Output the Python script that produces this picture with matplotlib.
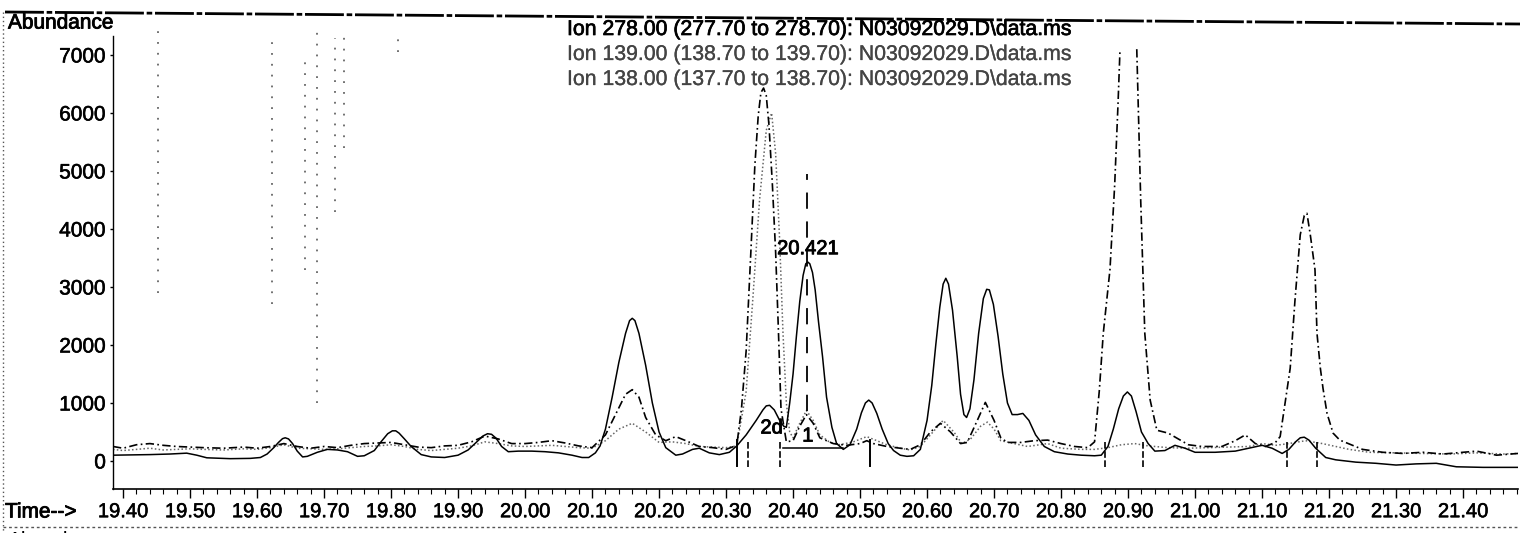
import numpy as np
import matplotlib
matplotlib.use("Agg")
import matplotlib.pyplot as plt
from matplotlib.lines import Line2D
import matplotlib.patheffects as pe

plt.rcParams['font.family'] = ['Liberation Sans', 'DejaVu Sans']

# Ion 278 (solid)
t278 = [19.385, 19.41, 19.44, 19.47, 19.495, 19.51, 19.525, 19.56, 19.59, 19.605, 19.615, 19.625,
        19.632, 19.638, 19.642, 19.647, 19.653, 19.66, 19.668, 19.675, 19.69, 19.705, 19.72, 19.735,
        19.75, 19.76, 19.775, 19.785, 19.795, 19.802, 19.807, 19.812, 19.82, 19.83, 19.845, 19.86,
        19.88, 19.90, 19.915, 19.928, 19.937, 19.944, 19.95, 19.957, 19.965, 19.975, 19.99, 20.01,
        20.03, 20.05, 20.07, 20.085, 20.095, 20.105, 20.112, 20.12, 20.13, 20.14, 20.15, 20.156,
        20.16, 20.164, 20.17, 20.18, 20.19, 20.20, 20.21, 20.225, 20.235, 20.25, 20.26, 20.275,
        20.29, 20.305, 20.316, 20.33, 20.345, 20.355, 20.36, 20.365, 20.372, 20.38, 20.386, 20.39,
        20.395, 20.40, 20.405, 20.41, 20.415, 20.419, 20.422, 20.425, 20.429, 20.433, 20.438,
        20.444, 20.45, 20.458, 20.465, 20.475, 20.485, 20.495, 20.502, 20.508, 20.513, 20.518,
        20.525, 20.533, 20.542, 20.55, 20.56, 20.57, 20.58, 20.59, 20.60, 20.607, 20.613, 20.619,
        20.624, 20.628, 20.632, 20.638, 20.645, 20.65, 20.655, 20.659, 20.664, 20.67, 20.677,
        20.684, 20.689, 20.693, 20.699, 20.706, 20.713, 20.72, 20.727, 20.735, 20.743, 20.752,
        20.762, 20.775, 20.79, 20.81, 20.83, 20.85, 20.86, 20.87, 20.878, 20.886, 20.893, 20.899,
        20.905, 20.912, 20.92, 20.93, 20.94, 20.955, 20.97, 20.985, 21.00, 21.03, 21.06, 21.08,
        21.10, 21.115, 21.13, 21.14, 21.15, 21.157, 21.163, 21.17, 21.18, 21.195, 21.21, 21.24,
        21.27, 21.30, 21.33, 21.36, 21.39, 21.43, 21.482]
i278 = [100, 105, 110, 120, 135, 100, 55, 40, 45, 60, 120, 230,
        320, 385, 400, 380, 300, 170, 70, 80, 150, 200, 190, 160,
        80, 90, 180, 330, 470, 520, 520, 480, 380, 250, 110, 70,
        60, 100, 190, 330, 430, 470, 460, 390, 250, 160, 170, 170,
        160, 140, 100, 60, 60, 140, 260, 550, 1100, 1700, 2200, 2420,
        2460, 2420, 2200, 1650, 1000, 500, 230, 100, 120, 200, 220, 140,
        110, 150, 260, 450, 700, 880, 950, 960, 880, 700, 600, 580,
        1000, 1500, 2150, 2750, 3200, 3400, 3430, 3400, 3250, 2950, 2400,
        1800, 1100, 580, 300, 200, 280, 550, 830, 1000, 1050, 1000,
        820, 550, 300, 180, 100, 80, 90, 200, 700, 1300, 2000, 2650,
        3050, 3150, 3050, 2600, 1800, 1150, 800, 750, 900, 1400, 2200,
        2800, 2960, 2950, 2700, 2150, 1500, 1000, 800, 800, 820, 700,
        450, 250, 160, 120, 100, 90, 100, 250, 550, 900, 1120, 1190,
        1120, 850, 500, 300, 170, 180, 270, 220, 150, 150, 170, 220,
        270, 220, 130, 200, 330, 400, 410, 360, 220, 60, 20, -20,
        -40, -70, -50, -40, -100, -110, -110]

# Ion 139 (dash-dot)
t139 = [19.385, 19.40, 19.42, 19.44, 19.46, 19.48, 19.50, 19.52, 19.55, 19.58, 19.60, 19.62, 19.64,
        19.66, 19.68, 19.70, 19.72, 19.74, 19.76, 19.78, 19.80, 19.82, 19.84, 19.86, 19.88, 19.90,
        19.92, 19.94, 19.96, 19.98, 20.00, 20.02, 20.04, 20.06, 20.08, 20.10, 20.12, 20.135, 20.15,
        20.16, 20.17, 20.18, 20.195, 20.21, 20.225, 20.24, 20.26, 20.28, 20.30, 20.316, 20.323,
        20.330, 20.337, 20.343, 20.348, 20.352, 20.356, 20.360, 20.364, 20.369, 20.374, 20.378,
        20.382, 20.39, 20.40, 20.41, 20.42, 20.43, 20.44, 20.46, 20.48, 20.50, 20.51, 20.52, 20.54,
        20.56, 20.575, 20.59, 20.605, 20.62, 20.635, 20.65, 20.66, 20.675, 20.687, 20.70, 20.71,
        20.72, 20.74, 20.76, 20.78, 20.80, 20.82, 20.84, 20.85, 20.857, 20.863, 20.873, 20.880,
        20.885, 20.888, 20.90, 20.913, 20.919, 20.925, 20.933, 20.943, 20.96, 20.975, 20.99, 21.01,
        21.04, 21.06, 21.075, 21.09, 21.105, 21.12, 21.127, 21.142, 21.149, 21.157, 21.163, 21.167,
        21.172, 21.179, 21.182, 21.187, 21.191, 21.197, 21.206, 21.216, 21.25, 21.28, 21.31, 21.34,
        21.37, 21.40, 21.42, 21.45, 21.482]
i139 = [250, 220, 280, 300, 270, 250, 240, 230, 220, 240, 220, 250, 300,
        250, 220, 250, 230, 270, 300, 310, 320, 280, 240, 230, 260, 270,
        330, 430, 380, 300, 300, 320, 350, 310, 260, 230, 450, 800, 1150,
        1230, 1100, 750, 450, 350, 420, 350, 250, 230, 200, 270, 900,
        1900, 3600, 5100, 5950, 6350, 6430, 6300, 5800, 4800, 3600, 2300,
        900, 330, 350, 600, 800, 650, 400, 300, 270, 300, 350, 300, 250,
        220, 200, 280, 500, 650, 500, 300, 320, 700, 1010, 700, 400,
        320, 320, 350, 360, 300, 250, 230, 330, 1200, 2200, 3300, 4750,
        6150, 7100, np.nan, 7100, 4450, 2200, 1050, 530, 480, 380, 280, 250,
        250, 350, 450, 300, 250, 320, 420, 1600, 2750, 3900, 4230, 4270,
        3900, 3300, 2200, 1600, 1250, 820, 480, 360, 200, 150, 130, 150,
        120, 150, 170, 100, 130]

# Ion 138 (dotted)
t138 = [19.385, 19.40, 19.42, 19.44, 19.46, 19.48, 19.50, 19.52, 19.55, 19.58, 19.60, 19.62, 19.64,
        19.66, 19.68, 19.70, 19.72, 19.74, 19.76, 19.78, 19.80, 19.82, 19.84, 19.86, 19.88, 19.90,
        19.92, 19.94, 19.96, 19.98, 20.00, 20.02, 20.04, 20.06, 20.08, 20.10, 20.12, 20.14, 20.16,
        20.18, 20.20, 20.22, 20.24, 20.26, 20.28, 20.30, 20.316, 20.33, 20.34, 20.35, 20.36, 20.368,
        20.374, 20.38, 20.385, 20.39, 20.395, 20.40, 20.41, 20.42, 20.43, 20.44, 20.455, 20.47, 20.49,
        20.51, 20.525, 20.54, 20.56, 20.575, 20.59, 20.605, 20.624, 20.64, 20.652, 20.665, 20.68,
        20.69, 20.70, 20.71, 20.73, 20.75, 20.78, 20.80, 20.83, 20.85, 20.87, 20.89, 20.91, 20.93,
        20.96, 20.99, 21.02, 21.05, 21.08, 21.10, 21.12, 21.14, 21.165, 21.19, 21.21, 21.23, 21.26,
        21.30, 21.34, 21.38, 21.42, 21.46, 21.482]
i138 = [200, 180, 200, 220, 190, 200, 210, 200, 190, 210, 200, 230, 280,
        220, 210, 200, 210, 230, 250, 260, 280, 250, 200, 180, 200, 220,
        260, 330, 300, 260, 250, 260, 270, 250, 230, 220, 350, 550, 650,
        500, 320, 330, 300, 250, 240, 230, 260, 1200, 2800, 4500, 5700, 6000,
        5300, 3800, 2200, 1000, 500, 400, 650, 870, 700, 450, 320, 280, 330,
        420, 350, 280, 220, 190, 250, 450, 700, 500, 300, 380, 600,
        670, 550, 350, 300, 250, 300, 220, 200, 200, 230, 280, 300, 260,
        230, 220, 230, 240, 250, 300, 270, 300, 350, 300, 250, 200, 150,
        140, 130, 120, 140, 120, 130]

# integration marks, retention time marker and peak labels
marks278 = [20.316, 20.515]
marks139 = [20.333, 20.381, 20.866, 20.922, 21.137, 21.182]
peak1_base = [20.385, 20.475]
peak1_level = 220
rt_peak1 = 20.421

# scan bleed-through streaks (time, low, high)
streak_t = [19.452, 19.622, 19.672, 19.69, 19.716, 19.73, 19.81]
streak_lo = [2900, 2700, 3300, 1000, 4300, 5400, 7050]
streak_hi = [7450, 7300, 6900, 7400, 7300, 7450, 7300]

legend_lines = ["Ion 278.00 (277.70 to 278.70): N03092029.D\\data.ms",
                "Ion 139.00 (138.70 to 139.70): N03092029.D\\data.ms",
                "Ion 138.00 (137.70 to 138.70): N03092029.D\\data.ms"]

W, H = 1520, 533
fig = plt.figure(figsize=(W / 100, H / 100), dpi=100)
ax = fig.add_axes([113 / W, 1 - 489 / H, (1518 - 113) / W, (489 - 20) / H])

x0, x1 = 19.385, 21.482
y0, y1 = -483, 7603
ax.set_xlim(x0, x1)
ax.set_ylim(y0, y1)

for st, lo, hi in zip(streak_t, streak_lo, streak_hi):
    ax.plot([st, st], [lo, hi], color='#666666', lw=1.3, ls=(0, (1, 5)))

ax.plot(t138, i138, color='#666666', lw=1.1, ls=(0, (1, 1.5)))
ax.plot(t139, i139, color='black', lw=1.2, ls=(0, (5, 2, 1, 2)))
ax.plot(t278, i278, color='black', lw=1.1)

for m in marks278:
    ax.plot([m, m], [-80, 360], color='black', lw=1.4)
for m in marks139:
    ax.plot([m, m], [-110, 340], color='black', lw=1.2, ls=(0, (4, 1.5)))
ax.plot(peak1_base, [peak1_level, peak1_level], color='black', lw=1.1)
ax.plot([rt_peak1, rt_peak1], [870, 4950], color='black', lw=1.3, ls=(0, (9, 7)))

heavy = [pe.withStroke(linewidth=0.6, foreground='black')]
ax.text(rt_peak1 + 0.001, 3660, "20.421", fontsize=14.5, ha='center', va='center', path_effects=heavy)
ax.text(20.368, 570, "2d", fontsize=14.5, ha='center', va='center', path_effects=heavy)
ax.text(20.422, 430, "1", fontsize=14.5, ha='center', va='center', path_effects=heavy)

for k, txt in enumerate(legend_lines):
    col = 'black' if k == 0 else '#444444'
    fig.text(567 / W, 1 - (29.5 + 25 * k) / H, txt, fontsize=15.3, color=col, va='center', ha='left',
             path_effects=[pe.withStroke(linewidth=0.5 if k == 0 else 0.2, foreground=col)])

ax.spines['top'].set_visible(False)
ax.spines['right'].set_visible(False)
ax.spines['left'].set_bounds(y0, 7330)
ax.spines['left'].set_linewidth(1.0)
ax.spines['bottom'].set_linewidth(1.2)

ax.set_xticks(np.round(np.arange(19.40, 21.41, 0.10), 2))
ax.set_xticks(np.round(np.arange(19.40, 21.481, 0.02), 2), minor=True)
ax.set_xticklabels([f"{v:.2f}" for v in np.arange(19.40, 21.41, 0.10)])
ax.set_yticks(np.arange(0, 7001, 1000))
ax.tick_params(axis='x', which='major', direction='out', length=6.5, width=1.0, labelsize=14.5, pad=3)
ax.tick_params(axis='x', which='minor', direction='out', length=3.5, width=0.8)
ax.tick_params(axis='y', which='major', direction='out', length=2, width=1.0, labelsize=15, pad=3)
for lab in ax.get_xticklabels() + ax.get_yticklabels():
    lab.set_path_effects([pe.withStroke(linewidth=0.4, foreground='black')])

fig.text(5 / W, 1 - 512 / H, "Time-->", fontsize=15, va='center', ha='left', path_effects=heavy)
fig.text(8 / W, 1 - 23 / H, "Abundance", fontsize=15, va='center', ha='left', path_effects=heavy)
fig.text(8 / W, 1 - 541 / H, "Abundance", fontsize=15, va='center', ha='left')

fig.add_artist(Line2D([5 / W, 1.0], [1 - 12 / H, 1 - 24 / H], transform=fig.transFigure,
                      color='black', lw=2.0, ls=(0, (14, 1, 2, 1))))
fig.add_artist(Line2D([3 / W, 3 / W], [1 - 12 / H, 0], transform=fig.transFigure,
                      color='#555555', lw=1.0, ls=(0, (1, 2))))
fig.add_artist(Line2D([3 / W, 1.0], [1 - 527 / H, 1 - 527 / H], transform=fig.transFigure,
                      color='#555555', lw=1.0, ls=(0, (2, 2))))

fig.savefig("out.png", dpi=100)
